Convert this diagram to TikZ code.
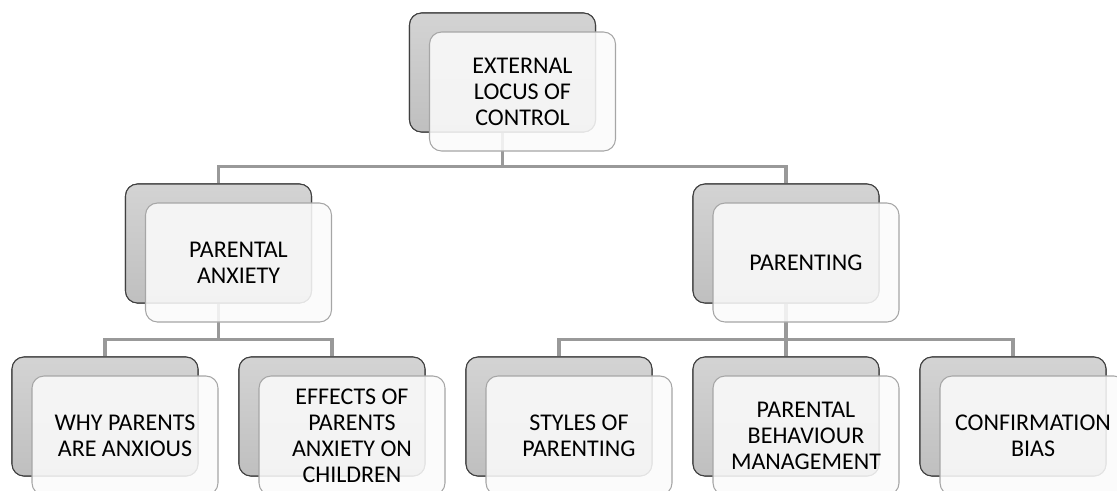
\documentclass[tikz,border=0pt]{standalone}
\usepackage{fontspec}
\setmainfont{Carlito}
\begin{document}
\begin{tikzpicture}[x=0.75pt,y=-0.75pt,
  backbox/.style={draw=black!75,line width=0.8pt,rounded corners=9pt,
    minimum width=139.5pt,minimum height=89.25pt,inner sep=0pt,
    top color=black!17,bottom color=black!25},
  frontbox/.style={draw=black!35,line width=0.8pt,rounded corners=9pt,
    minimum width=139.5pt,minimum height=89.25pt,inner sep=0pt,
    fill=black!2,fill opacity=0.88,text opacity=1,align=center,
    font=\fontsize{18}{19.5}\selectfont},
  conn/.style={draw=black!40,line width=2.3pt}]
\useasboundingbox (0,0) rectangle (1117,490);
\clip (0,0) rectangle (1117,490);

% back plates
\node[backbox] (bt)  at (502.5,72.5)  {};
\node[backbox] (bl)  at (218.5,243.5) {};
\node[backbox] (br)  at (786,243.5)   {};
\node[backbox] (b1)  at (105,416.5)   {};
\node[backbox] (b2)  at (332,416.5)   {};
\node[backbox] (b3)  at (559,416.5)   {};
\node[backbox] (b4)  at (786,416.5)   {};
\node[backbox] (b5)  at (1013,416.5)  {};

% connectors between the back plates
\draw[conn] (bt.south) -- ++(0,34) -| (bl.north);
\draw[conn] (bt.south) -- ++(0,34) -| (br.north);
\draw[conn] (bl.south) -- ++(0,36) -| (b1.north);
\draw[conn] (bl.south) -- ++(0,36) -| (b2.north);
\draw[conn] (br.south) -- ++(0,36) -| (b3.north);
\draw[conn] (br.south) -- ++(0,36) -| (b4.north);
\draw[conn] (br.south) -- ++(0,36) -| (b5.north);

% redraw back plates above the connectors
\foreach \n in {bt,bl,br,b1,b2,b3,b4,b5}{
  \node[backbox] at (\n) {};
}

% front labelled cards
\node[frontbox] (ft) at (522.5,91.5)  {EXTERNAL\\LOCUS OF\\CONTROL};
\node[frontbox] (fl) at (238.5,262.5) {PARENTAL\\ANXIETY};
\node[frontbox] (fr) at (806,262.5)   {PARENTING};
\node[frontbox] (f1) at (125,435.5)   {WHY PARENTS\\ARE ANXIOUS};
\node[frontbox] (f2) at (352,435.5)   {EFFECTS OF\\PARENTS\\ANXIETY ON\\CHILDREN};
\node[frontbox] (f3) at (579,435.5)   {STYLES OF\\PARENTING};
\node[frontbox] (f4) at (806,435.5)   {PARENTAL\\BEHAVIOUR\\MANAGEMENT};
\node[frontbox] (f5) at (1033,435.5)  {CONFIRMATION\\BIAS};
\end{tikzpicture}
\end{document}
